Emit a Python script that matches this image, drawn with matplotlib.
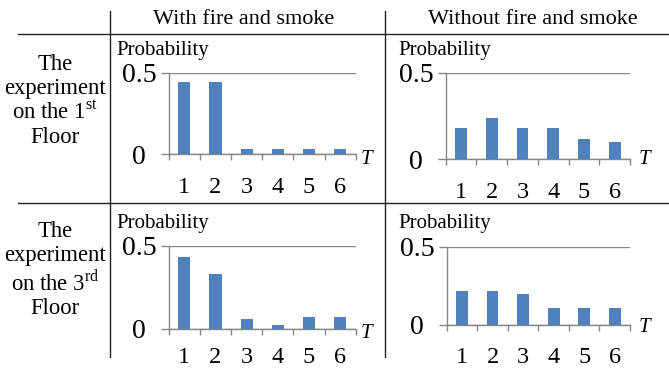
import matplotlib
matplotlib.use("Agg")
import matplotlib.pyplot as plt
from matplotlib.lines import Line2D

# ---- data ----
T = [1, 2, 3, 4, 5, 6]
fire_1st = [0.44, 0.44, 0.03, 0.03, 0.03, 0.03]
nofire_1st = [0.18, 0.24, 0.18, 0.18, 0.12, 0.10]
fire_3rd = [0.43, 0.33, 0.06, 0.02, 0.07, 0.07]
nofire_3rd = [0.22, 0.22, 0.20, 0.11, 0.11, 0.11]
col_titles = ["With fire and smoke", "Without fire and smoke"]
row_titles = ["The\nexperiment\non the 1$^{\\mathregular{st}}$\nFloor",
              "The\nexperiment\non the 3$^{\\mathregular{rd}}$\nFloor"]
y_ticks = [0, 0.5]
y_ticklabels = ["0", "0.5"]

plt.rcParams['font.family'] = ['Liberation Serif', 'DejaVu Serif']
plt.rcParams['mathtext.fontset'] = 'custom'
plt.rcParams['mathtext.rm'] = 'Liberation Serif'

W, H = 669, 369
fig = plt.figure(figsize=(W / 100, H / 100), dpi=100)

BAR = '#4F81BD'
GRAY = '#868686'


def fx(x):
    return x / W


def fy(y):
    return 1 - y / H


def make_panel(left, right, y0, y05, values, prob_xy, t_xy, xpad):
    ax = fig.add_axes([fx(left), fy(y0), (right - left) / W, (y0 - y05) / H])
    ax.bar(T, values, width=0.39, color=BAR, zorder=3)
    ax.set_xlim(0.5, 6.5)
    ax.set_ylim(0, 0.5)
    for s in ['top', 'right']:
        ax.spines[s].set_visible(False)
    for s in ['left', 'bottom']:
        ax.spines[s].set_color(GRAY)
        ax.spines[s].set_linewidth(1.0)
    ax.set_yticks(y_ticks)
    ax.set_yticklabels(y_ticklabels, fontsize=20)
    for lab in ax.get_yticklabels():
        lab.set_horizontalalignment('center')
    ax.tick_params(axis='y', direction='out', length=5.5, width=1.0,
                   color=GRAY, pad=16)
    ax.yaxis.grid(True, color=GRAY, linewidth=1.0, zorder=0)
    # category boundaries as major ticks, labels at category centres
    ax.set_xticks([i + 0.5 for i in range(0, 7)])
    ax.set_xticklabels([''] * 7)
    ax.set_xticks(T, minor=True)
    ax.set_xticklabels([str(t) for t in T], minor=True, fontsize=17.5)
    ax.tick_params(axis='x', which='major', direction='out', length=4.5,
                   width=1.0, color=GRAY)
    ax.tick_params(axis='x', which='minor', length=0, pad=xpad)
    fig.text(fx(prob_xy[0]), fy(prob_xy[1]), "Probability", fontsize=15,
             ha='left', va='top')
    fig.text(fx(t_xy[0]), fy(t_xy[1]), "T", fontsize=15, style='italic',
             ha='center', va='center')
    return ax


make_panel(168.7, 355.7, 154.3, 72.7, fire_1st, (116, 41), (366.7, 159), 16.5)
make_panel(445.7, 630.0, 159.3, 72.7, nofire_1st, (398, 41), (644, 160), 16.5)
make_panel(168.7, 355.7, 328.7, 245.7, fire_3rd, (116, 214), (366, 333), 13.5)
make_panel(446.7, 630.0, 325.0, 247.0, nofire_3rd, (398, 214), (644, 328), 15.5)

# table lines
LC = '#222222'
fig.add_artist(Line2D([fx(18), fx(669)], [fy(34), fy(34)], color=LC, lw=1.0))
fig.add_artist(Line2D([fx(18), fx(669)], [fy(203.3), fy(203.3)], color=LC, lw=1.0))
fig.add_artist(Line2D([fx(109.5), fx(109.5)], [fy(10.7), fy(357)], color=LC, lw=1.0))
fig.add_artist(Line2D([fx(385.3), fx(385.3)], [fy(10.7), fy(357)], color=LC, lw=1.0))

# headers
fig.text(fx(244), fy(20), col_titles[0], fontsize=16, ha='center', va='center')
fig.text(fx(533), fy(20), col_titles[1], fontsize=16, ha='center', va='center')
fig.text(fx(55), fy(101), row_titles[0], fontsize=16.3, ha='center', va='center',
         linespacing=1.17)
fig.text(fx(55), fy(270), row_titles[1], fontsize=16.3, ha='center', va='center',
         linespacing=1.17)

fig.savefig("out.png", dpi=100)
